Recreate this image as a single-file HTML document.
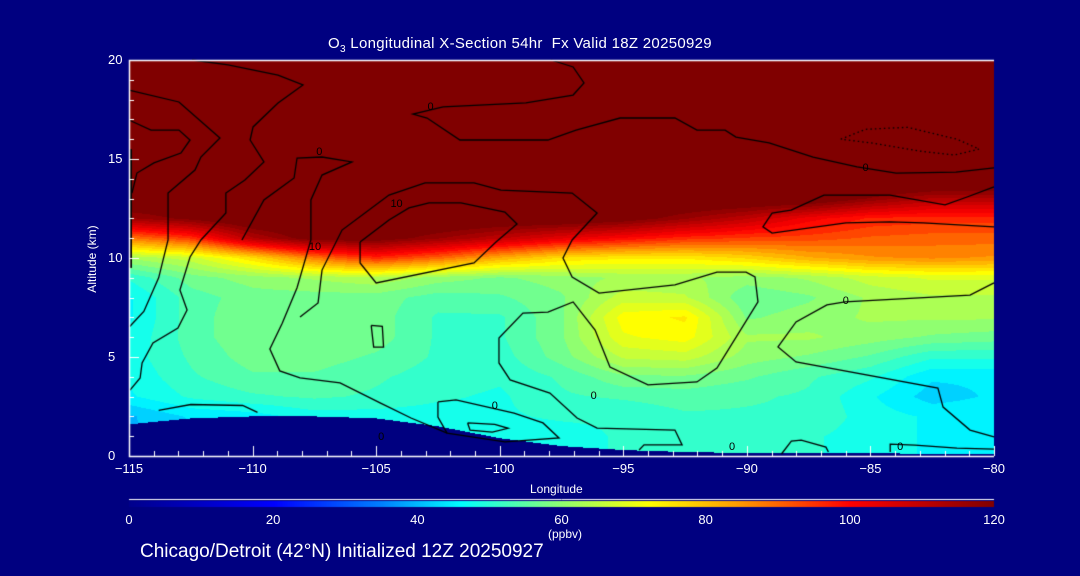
<!DOCTYPE html>
<html><head><meta charset="utf-8"><style>
html,body{margin:0;padding:0;background:#000080;}
#wrap{position:relative;width:1080px;height:576px;background:#000080;overflow:hidden;font-family:"Liberation Sans",sans-serif;color:#fff;}
canvas{position:absolute;left:0;top:0;}
.t{position:absolute;white-space:nowrap;color:#fff;}
.c{position:absolute;white-space:nowrap;color:#000;font-size:11px;line-height:11px;}
</style></head><body>
<div id="wrap">
<canvas id="cv" width="1080" height="576"></canvas>
<div class="t" style="left:328px;top:35px;font-size:15px;letter-spacing:0.3px;">O<sub style="font-size:10px">3</sub> Longitudinal X-Section 54hr&nbsp; Fx Valid 18Z 20250929</div>
<div class="t" style="left:47px;top:252px;font-size:12px;transform:rotate(-90deg);transform-origin:center;width:90px;text-align:center;">Altitude (km)</div>
<div class="t" style="left:530px;top:482px;font-size:12px;">Longitude</div>
<div class="t" style="left:548px;top:527px;font-size:12px;">(ppbv)</div>
<div class="t" style="left:140px;top:541px;font-size:19px;">Chicago/Detroit (42°N) Initialized 12Z 20250927</div>
<div id="labels"></div>
</div>
<script>
const lons=[-115,-112.5,-110,-107.5,-105,-102.5,-100,-97.5,-95,-92.5,-90,-87.5,-85,-82.5,-80];
const alts=[0,1,2,3,4,5,6,7,8,9,10,11,12,13,14,15,16,17,18,19,20];
const o3=[
[40,42,42,45,45,46,48,48,50,50,50,50,48,46,46],
[40,42,42,45,45,46,48,48,50,50,50,50,48,46,46],
[40,44,45,48,48,48,49,50,50,52,52,52,48,46,46],
[46,50,52,53,52,50,49,52,53,54,53,52,47,42,44],
[47,52,55,55,53,51,50,53,58,58,56,53,50,44,44],
[48,53,57,57,55,52,51,57,65,66,60,58,55,50,50],
[47,54,58,58,57,52,52,58,70,72,62,62,60,58,57],
[46,54,58,58,57,52,52,58,72,74,58,60,62,62,62],
[46,54,57,57,57,54,55,58,66,65,56,58,62,64,64],
[50,57,60,62,64,60,58,60,62,62,60,62,66,68,68],
[62,66,76,88,96,90,82,76,74,74,77,82,85,86,85],
[88,95,112,122,122,116,110,104,100,96,94,93,91,90,90],
[115,120,126,126,126,126,125,125,122,116,110,102,97,96,96],
[126,126,126,126,126,126,126,126,126,126,126,125,118,112,112],
[130,130,130,130,130,130,130,130,130,130,130,130,130,130,130],
[130,130,130,130,130,130,130,130,130,130,130,130,130,130,130],
[130,130,130,130,130,130,130,130,130,130,130,130,130,130,130],
[130,130,130,130,130,130,130,130,130,130,130,130,130,130,130],
[130,130,130,130,130,130,130,130,130,130,130,130,130,130,130],
[130,130,130,130,130,130,130,130,130,130,130,130,130,130,130],
[130,130,130,130,130,130,130,130,130,130,130,130,130,130,130]];
const terrain=[1.6,1.9,2.0,2.0,1.9,1.5,0.9,0.5,0.3,0.2,0.15,0.15,0.15,0.1,0.1];
const xTicks=[-115,-110,-105,-100,-95,-90,-85,-80];
const yTicks=[0,5,10,15,20];
const cbTicks=[0,20,40,60,80,100,120];
// contour lines as [lon, alt] pairs
const contourMain=[[-108.08,7.02],[-107.35,7.73],[-107.19,9.39],[-106.38,11.41],[-104.48,13.18],[-103.02,13.79],[-101.04,13.79],[-99.95,13.43],[-97.07,13.28],[-96.06,12.27],[-97.07,10.91],[-97.44,10.0],[-97.07,9.04],[-95.98,8.23],[-92.91,8.64],[-91.21,9.29],[-90.03,9.29],[-89.67,9.04],[-89.55,7.78],[-91.21,4.44],[-92.02,3.74],[-94.0,3.59],[-95.54,4.49],[-96.14,6.36],[-97.03,7.78],[-98.05,7.27],[-99.06,7.22],[-100.03,5.96],[-100.03,4.70],[-99.58,3.84],[-97.97,3.18],[-96.87,1.92],[-96.06,1.41],[-92.91,1.31],[-92.62,0.56],[-94.16,0.56],[-94.36,0.30]];
const contour10=[[-105.65,10.81],[-105.65,9.75],[-105.0,8.74],[-101.04,9.75],[-100.15,10.81],[-99.30,11.72],[-99.79,12.32],[-101.57,12.78],[-102.86,12.78],[-103.67,12.53],[-104.48,11.92],[-105.65,10.81]];
const contourEast=[[-80,8.74],[-80.97,8.13],[-86.03,7.78],[-86.76,7.63],[-88.01,6.77],[-88.74,5.51],[-88.01,4.75],[-82.27,3.43],[-82.06,2.47],[-80.97,1.31],[-80,0.96]];
const contourTop=[[-97.92,20],[-97.03,19.65],[-96.59,18.84],[-97.03,18.23],[-98.94,17.83],[-102.29,17.63],[-103.51,17.27],[-102.94,17.07],[-101.61,15.96],[-98.05,15.96],[-96.91,16.46],[-95.13,17.07],[-92.91,17.07],[-92.02,16.46],[-90.88,16.46],[-90.44,16.11],[-89.10,15.81],[-87.32,15.10],[-85.54,14.6],[-83.96,14.29],[-81.54,14.34],[-80,14.55]];
const contourOrange=[[-80,13.59],[-81.09,13.08],[-81.98,12.68],[-84.21,13.18],[-86.88,13.18],[-88.21,12.42],[-88.98,12.27],[-89.35,11.57],[-88.98,11.26],[-85.99,11.77],[-84.21,11.82],[-82.87,11.77],[-80,11.57]];
const contourWestB=[[-112.45,20],[-110.99,19.75],[-108.97,19.24],[-107.96,18.74],[-108.97,17.83],[-109.98,16.62],[-110.10,15.96],[-109.54,14.85],[-110.31,13.94],[-111.08,13.28],[-111.08,12.27],[-112.09,10.91],[-112.53,10.05],[-112.94,8.38],[-112.65,7.37],[-113.02,6.46],[-114.03,5.71],[-114.47,4.70],[-114.55,3.94],[-114.96,3.33]];
const contourWestA=[[-115,18.48],[-112.98,17.88],[-111.32,16.06],[-112.09,15.10],[-112.33,14.44],[-113.42,13.28],[-113.42,10.91],[-113.8,9.0],[-114.4,7.3],[-115,6.5]];
const contourWestC=[[-115,16.97],[-114.11,16.46],[-112.98,16.46],[-112.53,15.96],[-112.90,15.30],[-113.99,14.80],[-114.68,14.29],[-114.88,13.28]];
const contourMidC=[[-110.43,10.91],[-109.54,12.93],[-108.32,14.04],[-108.2,15.05],[-107.19,15.10],[-105.98,14.85],[-107.19,14.19],[-107.64,12.93],[-107.64,10.91],[-108.2,8.5],[-108.8,6.7],[-109.3,5.4],[-108.9,4.3],[-108.08,3.94],[-106.46,3.69],[-104.84,2.68],[-103.59,1.92],[-102.13,1.16]];
const contourSmall=[[-105.2,6.6],[-104.75,6.55],[-104.7,5.5],[-105.1,5.5],[-105.2,6.6]];
const contourLow=[[-102.5,2.73],[-101.77,2.83],[-99.42,2.17],[-98.25,1.67],[-97.6,0.91],[-99.79,0.71],[-102.13,1.16],[-102.5,1.97],[-102.5,2.73]];
const contourLowIn=[[-101.3,1.67],[-100.2,1.6],[-99.66,1.4],[-100.3,1.21],[-101.2,1.3],[-101.3,1.67]];
const contourSW=[[-113.8,2.3],[-112.5,2.6],[-110.4,2.55],[-109.8,2.2]];
const contourE1=[[-88.6,0.1],[-88.2,0.75],[-87.8,0.8],[-86.8,0.45],[-86.7,0.2]];
const contourE2=[[-84.2,0.2],[-84.2,0.6],[-83.2,0.55],[-81.5,0.4],[-80,0.35]];
const contourDotted=[[-86.2,16.0],[-85.2,16.5],[-83.5,16.6],[-81.5,16.0],[-80.6,15.5],[-81.6,15.2],[-83.0,15.4],[-84.9,15.8],[-86.2,16.0]];

const X0=129,X1=994,Y0=456,Y1=60;
const xs=v=>X0+(v-(-115))/35*(X1-X0);
const ys=v=>Y0-v/20*(Y0-Y1);
const stops=[[0,[0,0,140]],[20,[0,0,255]],[35,[0,128,255]],[46,[0,255,255]],[60,[144,255,112]],[72,[255,255,0]],[85,[255,150,0]],[100,[255,0,0]],[120,[128,0,0]]];
function cmap(v){if(v<=0)return stops[0][1];if(v>=120)return stops[stops.length-1][1];
 for(let i=0;i<stops.length-1;i++){const a=stops[i],b=stops[i+1];if(v<=b[0]){const t=(v-a[0])/(b[0]-a[0]);return a[1].map((c,k)=>Math.round(c+(b[1][k]-c)*t));}}}
function interp(arr,lon){let f=(lon+115)/2.5;let i=Math.min(Math.floor(f),arr.length-2);let t=f-i;return arr[i]*(1-t)+arr[i+1]*t;}
const cv=document.getElementById('cv');const ctx=cv.getContext('2d');
const W=X1-X0,H=Y0-Y1;const img=ctx.createImageData(W,H);
for(let py=0;py<H;py++){const alt=(Y0-(Y1+py+0.5))/(Y0-Y1)*20;
 let fa=Math.min(alt,19.999);let j=Math.floor(fa),ta=fa-j;
 for(let px=0;px<W;px++){const lon=-115+(px+0.5)/W*35;
  let f=(lon+115)/2.5;let i=Math.min(Math.floor(f),lons.length-2);let t=f-i;
  let v=(o3[j][i]*(1-t)+o3[j][i+1]*t)*(1-ta)+(o3[j+1][i]*(1-t)+o3[j+1][i+1]*t)*ta;
  v=Math.round(v/3)*3;
  let c=cmap(v);if(alt<interp(terrain,lon))c=[0,0,128];
  const k=(py*W+px)*4;img.data[k]=c[0];img.data[k+1]=c[1];img.data[k+2]=c[2];img.data[k+3]=255;}}
ctx.putImageData(img,X0,Y1);
// contours
function drawContour(pts,dotted){ctx.save();ctx.strokeStyle='#000';ctx.lineWidth=1.3;if(dotted)ctx.setLineDash([1.5,3]);
 ctx.beginPath();pts.forEach((p,i)=>{const x=xs(p[0]),y=ys(p[1]);i?ctx.lineTo(x,y):ctx.moveTo(x,y);});ctx.stroke();ctx.restore();}
[contourMain,contour10,contourEast,contourTop,contourOrange,contourWestB,contourWestA,contourWestC,contourMidC,contourSmall,contourLow,contourLowIn,contourSW,contourE1,contourE2].forEach(c=>drawContour(c,false));
drawContour(contourDotted,true);
ctx.fillStyle='#000';ctx.fillRect(X0,ys(15.5),3,ys(9.5)-ys(15.5));
ctx.strokeStyle='#fff';ctx.lineWidth=1.5;
ctx.beginPath();ctx.moveTo(X1,Y1+0.5);ctx.lineTo(X0+0.5,Y1+0.5);ctx.lineTo(X0+0.5,Y0+0.5);ctx.lineTo(X1,Y0+0.5);ctx.stroke();
ctx.lineWidth=1;
for(let v=-115;v<=-80;v++){const x=Math.round(xs(v))+0.5;ctx.beginPath();ctx.moveTo(x,Y0);ctx.lineTo(x,Y0-(v%5===0?10:5));ctx.stroke();}
for(let v=0;v<=20;v++){const y=Math.round(ys(v))+0.5;ctx.beginPath();ctx.moveTo(X0,y);ctx.lineTo(X0+(v%5===0?10:5),y);ctx.stroke();}
// colorbar
ctx.beginPath();ctx.moveTo(X0,499.5);ctx.lineTo(X1,499.5);ctx.stroke();
for(let px=0;px<W;px++){const c=cmap(px/W*120);ctx.fillStyle=`rgb(${c[0]},${c[1]},${c[2]})`;ctx.fillRect(X0+px,501,1,6);}
const lab=document.getElementById('labels');
function addLabel(txt,x,y,name,align){const d=document.createElement('div');d.className='t';d.textContent=txt;d.style.fontSize='13px';d.style.top=y+'px';d.style.left=x+'px';d.style.transform=align;
 
 
 lab.appendChild(d);}
xTicks.forEach(v=>addLabel(String(v).replace('-','\u2212'),xs(v),461,'x-tick-label','translateX(-50%)'));
yTicks.forEach(v=>addLabel(String(v),108,ys(v)-8,'y-tick-label','none'));
cbTicks.forEach(v=>addLabel(String(v),X0+v/120*W,512,'colorbar-tick-label','translateX(-50%)'));
const contourLabelLon=[-102.8,-107.3,-104.3,-85.2,-86.0,-96.2,-107.6,-100.2,-104.8,-90.6,-83.8];
const contourLabelAlt=[17.6,15.3,12.7,14.5,7.8,3.0,10.5,2.5,0.9,0.4,0.4];
const contourLabelTxt=['0','0','10','0','0','0','10','0','0','0','0'];
contourLabelLon.forEach((v,i)=>{const d=document.createElement('div');d.className='c';d.textContent=contourLabelTxt[i];
 d.style.left=(xs(v)-3)+'px';d.style.top=(ys(contourLabelAlt[i])-6)+'px';
 
 
 lab.appendChild(d);});
</script>
</body></html>
